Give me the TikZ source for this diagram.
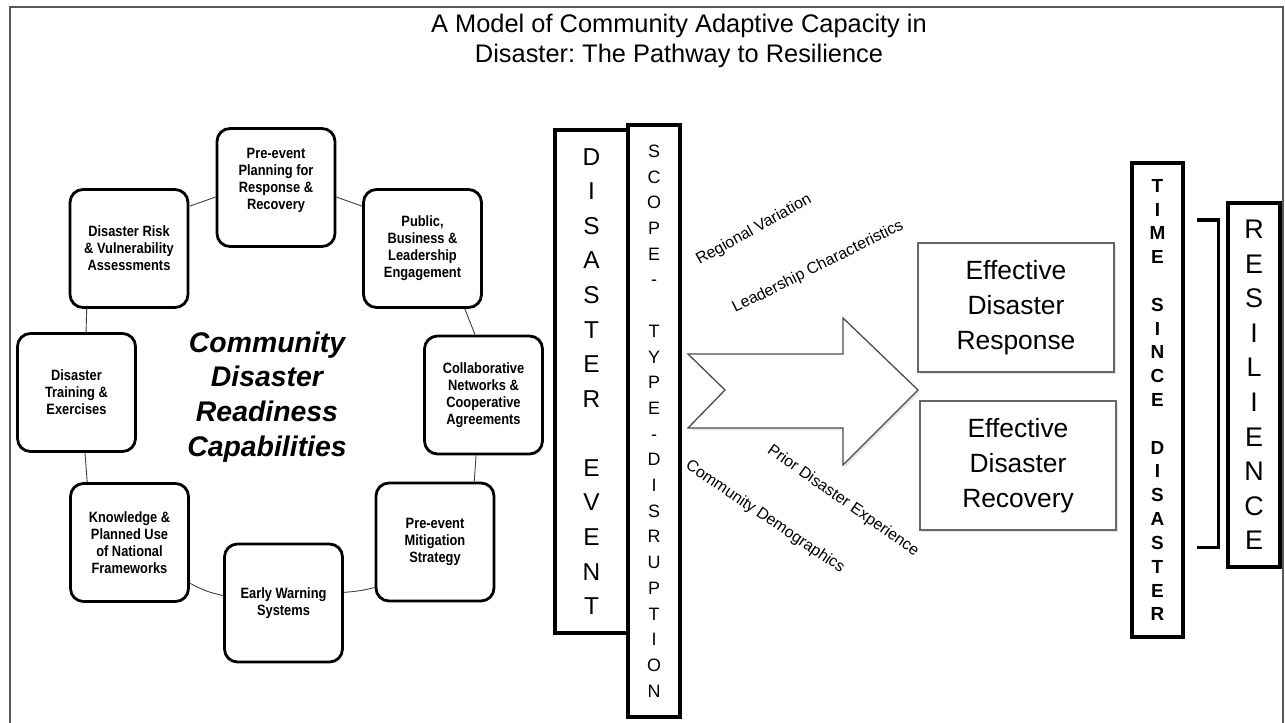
\documentclass[tikz,border=0pt]{standalone}
\usepackage{fontspec}
\setmainfont{Liberation Sans}
\setsansfont{Liberation Sans}
\newfontfamily\narrowsans[FakeStretch=0.86]{Liberation Sans}
\usetikzlibrary{shadows}
\frenchspacing

\newcommand\fsz[2]{\fontsize{#1}{#2}\selectfont}

\begin{document}
\begin{tikzpicture}[x=1bp,y=-1bp,
  capbox/.style={draw, line width=2.8bp, rounded corners=13bp,
    minimum width=118bp, minimum height=118bp, inner sep=0pt,
    align=center, font=\narrowsans\bfseries\fsz{15}{17}},
  link/.style={black!75, line width=0.9bp},
  bar/.style={draw, line width=3.2bp, inner sep=0pt, align=center},
  outcome/.style={draw=black!60, line width=1.6bp, fill=white,
    drop shadow={shadow xshift=2bp, shadow yshift=-2bp, opacity=0.2},
    minimum width=196bp, minimum height=129bp, inner sep=0pt,
    align=center, font=\fsz{26.5}{35}},
  factor/.style={font=\fsz{16}{18}, inner sep=0pt},
]

\useasboundingbox (0,0) rectangle (1285,723);

% outer frame
\draw[black!65, line width=2bp] (10,730) -- (10,7) -- (1283,7) -- (1283,730);

% title
\node[font=\fsz{25.5}{30}, align=center] (title) at (679,41)
  {A Model of Community Adaptive Capacity in\\Disaster: The Pathway to Resilience};

% ring of readiness capabilities
\node[capbox] (plan) at (276,187.5) {Pre-event\\Planning for\\Response \&\\Recovery\\\mbox{}};
\node[capbox] (risk) at (129,248.5) {Disaster Risk\\\& Vulnerability\\Assessments};
\node[capbox] (public) at (422.5,248.5) {Public,\\Business \&\\Leadership\\Engagement};
\node[capbox] (training) at (76.5,392.5) {Disaster\\Training \&\\Exercises};
\node[capbox] (collab) at (483.5,395) {Collaborative\\Networks \&\\Cooperative\\Agreements};
\node[capbox] (knowledge) at (129.5,542.5) {Knowledge \&\\Planned Use\\of National\\Frameworks};
\node[capbox] (early) at (283.5,603) {Early Warning\\Systems};
\node[capbox] (mitig) at (435,542) {Pre-event\\Mitigation\\Strategy};

\draw[link] (plan.189) -- (risk.35);
\draw[link] (plan.351) -- (public.145);
\draw[link] (risk.235) -- (training.81);
\draw[link] (public.305) -- (collab.98);
\draw[link] (training.278) -- (knowledge.125);
\draw[link] (collab.263) -- (mitig.57);
\draw[link] (knowledge.326) to[bend right=8] (early.173);
\draw[link] (early.10) to[bend right=5] (mitig.217);

\node[font=\bfseries\itshape\fsz{28.5}{35}, align=center] (core) at (267,397)
  {Community\\Disaster\\Readiness\\Capabilities};

% event columns
\node[bar, minimum width=73bp, minimum height=503bp, font=\fsz{24.5}{34.7}]
  (event) at (591.5,381.5)
  {D\\I\\S\\A\\S\\T\\E\\R\\\mbox{}\\E\\V\\E\\N\\T};
\node[bar, minimum width=52bp, minimum height=592bp, font=\fsz{18}{25.8}]
  (scope) at (654,421)
  {S\\C\\O\\P\\E\\-\\\mbox{}\\T\\Y\\P\\E\\-\\D\\I\\S\\R\\U\\P\\T\\I\\O\\N};

% notched arrow
\draw[black!70, line width=1.3bp, fill=white,
  drop shadow={shadow xshift=2bp, shadow yshift=-2bp, opacity=0.2}]
  (688,354) -- (843,354) -- (843,318) -- (918,390) -- (843,465)
  -- (843,428) -- (688,428) -- (725,390) -- cycle;

% influencing factors
\node[factor, rotate=29] (regional) at (754,230) {Regional Variation};
\node[factor, rotate=26.6] (leader) at (818,267) {Leadership Characteristics};
\node[factor, rotate=-35] (prior) at (843,501) {Prior Disaster Experience};
\node[factor, rotate=-34] (demog) at (765,517) {Community Demographics};

% outcomes
\node[outcome] (response) at (1016,307.5) {Effective\\Disaster\\Response};
\node[outcome] (recovery) at (1018,465.5) {Effective\\Disaster\\Recovery};

% time and resilience
\node[bar, minimum width=51bp, minimum height=474bp, font=\bfseries\fsz{19}{23.9}]
  (time) at (1157.5,400)
  {T\\I\\M\\E\\\mbox{}\\S\\I\\N\\C\\E\\\mbox{}\\D\\I\\S\\A\\S\\T\\E\\R};
\node[bar, minimum width=52bp, minimum height=364bp, font=\fsz{27}{34.7}]
  (resil) at (1254,385)
  {R\\E\\S\\I\\L\\I\\E\\N\\C\\E};

% bracket gathering the outcomes
\draw[line width=3bp] (1197,220) -- (1218,220) -- (1218,547) -- (1197,547);

\end{tikzpicture}
\end{document}
